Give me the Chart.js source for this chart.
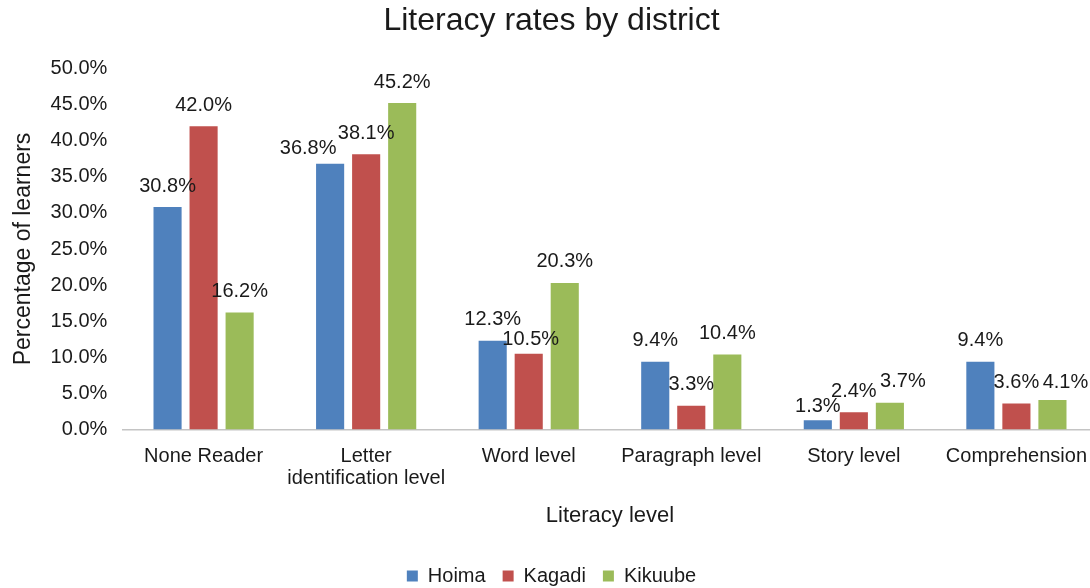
<!DOCTYPE html>
<html>
<head>
<meta charset="utf-8">
<title>Literacy rates by district</title>
<script src="https://cdn.jsdelivr.net/npm/chart.js@4"></script>
<style>
  html, body { margin: 0; padding: 0; background: #fff; overflow: hidden; }
  .chart-wrap { position: relative; width: 1103px; height: 588px; }
</style>
</head>
<body>
<div class="chart-wrap">
  <canvas id="literacy-chart"></canvas>
</div>
<script>
// literacy level categories (multi-line where the label wraps)
const levels = ['None Reader', ['Letter', 'identification level'], 'Word level', 'Paragraph level', 'Story level', 'Comprehension'];
// share of learners per district, in percent
const hoima = [30.8, 36.8, 12.3, 9.4, 1.3, 9.4];
const kagadi = [42.0, 38.1, 10.5, 3.3, 2.4, 3.6];
const kikuube = [16.2, 45.2, 20.3, 10.4, 3.7, 4.1];
const yTicks = [0, 5, 10, 15, 20, 25, 30, 35, 40, 45, 50];

const fontFamily = '"Liberation Sans", Arial, Helvetica, sans-serif';
const textColor = '#1a1a1a';

// small [dx, dy] shifts so crowded value labels don't sit on each other
const labelNudge = [
  [[0, 0], [-22, 6], [0, 0], [0, 0], [0, 7], [0, 0]],
  [[0, 0], [0, 0], [2, 7], [0, 0], [0, 0], [0, 0]],
  [[0, 0], [0, 0], [0, 0], [0, 0], [13, 0], [13, 4]]
];

// value labels above each bar
const barLabels = {
  id: 'barLabels',
  afterDatasetsDraw(chart) {
    const ctx = chart.ctx;
    ctx.save();
    ctx.font = '20px ' + fontFamily;
    ctx.fillStyle = textColor;
    ctx.textAlign = 'center';
    ctx.textBaseline = 'middle';
    chart.data.datasets.forEach((ds, i) => {
      chart.getDatasetMeta(i).data.forEach((bar, j) => {
        const [dx, dy] = labelNudge[i][j];
        ctx.fillText(ds.data[j].toFixed(1) + '%', bar.x + dx, bar.y - 21 + dy);
      });
    });
    ctx.restore();
  }
};

const ctx = document.getElementById('literacy-chart').getContext('2d');
new Chart(ctx, {
  type: 'bar',
  data: {
    labels: levels,
    datasets: [
      { label: 'Hoima', data: hoima, backgroundColor: '#4F81BD' },
      { label: 'Kagadi', data: kagadi, backgroundColor: '#C0504D' },
      { label: 'Kikuube', data: kikuube, backgroundColor: '#9BBB59' }
    ]
  },
  options: {
    responsive: true,
    maintainAspectRatio: false,
    animation: false,
    categoryPercentage: 0.665,
    barPercentage: 0.78,
    layout: { padding: { left: 0, right: 0, top: 0, bottom: -8 } },
    plugins: {
      title: {
        display: true,
        text: 'Literacy rates by district',
        color: textColor,
        font: { family: fontFamily, size: 32, weight: 'normal', lineHeight: 1.2 },
        padding: { top: 2, bottom: 28 }
      },
      legend: {
        position: 'bottom',
        labels: {
          color: textColor,
          font: { family: fontFamily, size: 20 },
          boxWidth: 11,
          boxHeight: 11,
          padding: 17
        }
      },
      tooltip: { enabled: false }
    },
    scales: {
      x: {
        grid: { display: false, drawTicks: false },
        border: { color: '#c4c4c4', width: 1.5 },
        ticks: {
          color: textColor,
          font: { family: fontFamily, size: 20, lineHeight: 1.1 },
          padding: 16,
          maxRotation: 0,
          autoSkip: false
        },
        title: {
          display: true,
          text: 'Literacy level',
          color: textColor,
          font: { family: fontFamily, size: 22, lineHeight: 1.2 },
          padding: { top: -3, bottom: 20 }
        }
      },
      y: {
        min: 0,
        max: 50,
        afterBuildTicks(axis) {
          axis.ticks = yTicks.map(v => ({ value: v }));
        },
        grid: { display: false, drawTicks: false },
        border: { display: false },
        ticks: {
          color: textColor,
          font: { family: fontFamily, size: 20 },
          padding: 15,
          callback: v => v.toFixed(1) + '%'
        },
        title: {
          display: true,
          text: 'Percentage of learners',
          color: textColor,
          font: { family: fontFamily, size: 23 },
          padding: { top: 10, bottom: -2 }
        }
      }
    }
  },
  plugins: [barLabels]
});
</script>
</body>
</html>
